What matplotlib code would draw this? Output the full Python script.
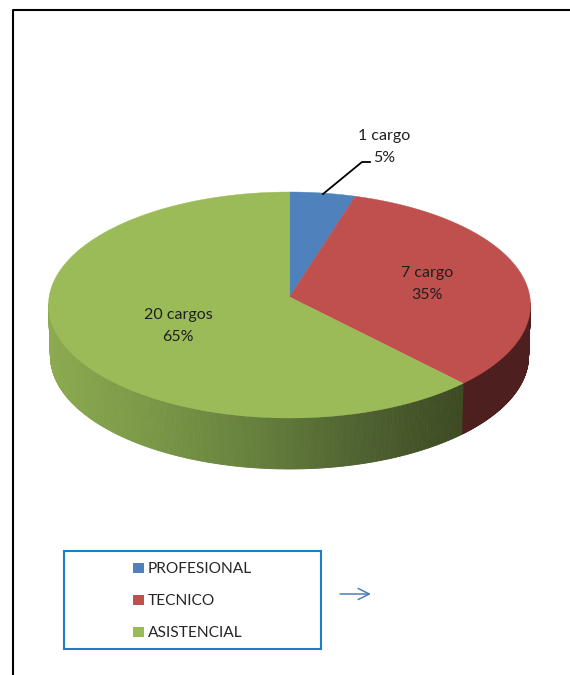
import matplotlib
matplotlib.use('Agg')
import matplotlib.pyplot as plt
from matplotlib.colors import LinearSegmentedColormap
import numpy as np

plt.rcParams['font.family'] = ['Lato', 'DejaVu Sans']

# datos
categorias = ['PROFESIONAL', 'TECNICO', 'ASISTENCIAL']
porcentajes = [4.4, 32.8, 62.8]
etiquetas = ['1 cargo\n5%', '7 cargo\n35%', '20 cargos\n65%']
colores = ['#4f81bd', '#c0504d', '#9bbb59']

# geometria del pastel, en pixeles de la imagen
cx, cy = 289.5, 305
rx, ry = 241, 113
vy = 297
alto = 51
encoge = 0.992

fig = plt.figure(figsize=(5.7, 6.75), dpi=100)
ax = fig.add_axes([0, 0, 1, 1])
ax.set_xlim(0, 570)
ax.set_ylim(675, 0)
ax.axis('off')

# marco
ax.plot([12.5, 12.5, 570], [675, 9.5, 9.5], color='black', lw=1.5)

limites = np.cumsum([0] + porcentajes) / 100 * 2 * np.pi

def borde(t):
    return cx + rx * np.sin(t), cy - ry * np.cos(t)

def abajo(x, y):
    return cx + (x - cx) * encoge, y + alto

# pared lateral con degradado
verde_lado = LinearSegmentedColormap.from_list('v', ['#8cab50', '#7a9747', '#66803c', '#4f6230', '#3c4a22'])
for i, color in enumerate(colores):
    t = np.linspace(limites[i], limites[i + 1], 500)
    t = t[np.cos(t) <= 0.02]
    if len(t) < 2:
        continue
    for a, b in zip(t[:-1], t[1:]):
        x0, y0 = borde(a)
        x1, y1 = borde(b)
        xb0, yb0 = abajo(x0, y0)
        xb1, yb1 = abajo(x1, y1)
        if i == 2:
            c = verde_lado((x0 - 48) / (462 - 48))
        else:
            c = '#4e1f1f'
        ax.fill([x0, x1, xb1, xb0], [y0, y1, yb1, yb0], color=c, lw=0.6)

# cara superior
for i, color in enumerate(colores):
    t = np.linspace(limites[i], limites[i + 1], 200)
    x, y = borde(t)
    ax.fill(np.r_[cx, x], np.r_[vy, y], color=color, lw=0.3)

# linea guia
ax.plot([323, 362, 370], [194, 162, 162], color='black', lw=1.3)

# etiquetas
pos_x = [384, 427, 178]
pos_y = [147, 284, 326]
for txt, x, y in zip(etiquetas, pos_x, pos_y):
    ax.text(x, y, txt, ha='center', va='center', fontsize=11.5, color='#1f1f1f', linespacing=1.7)

# leyenda
ax.add_patch(plt.Rectangle((63.5, 551), 257, 97.5, fill=False, ec='#1f7fc4', lw=1.5))
for nombre, color, y in zip(categorias, colores, [568, 600, 632]):
    ax.add_patch(plt.Rectangle((133, y - 5.5), 10.5, 10, color=color, lw=0))
    ax.text(147.5, y + 1, nombre, ha='left', va='center', fontsize=11.2, color='#262626')

# flecha
ax.annotate('', xy=(371, 594), xytext=(340, 594),
            arrowprops=dict(arrowstyle='->,head_length=0.8,head_width=0.4', color='#4a7ebb', lw=1.1, shrinkA=0, shrinkB=0))

fig.savefig('out.png', dpi=100)
